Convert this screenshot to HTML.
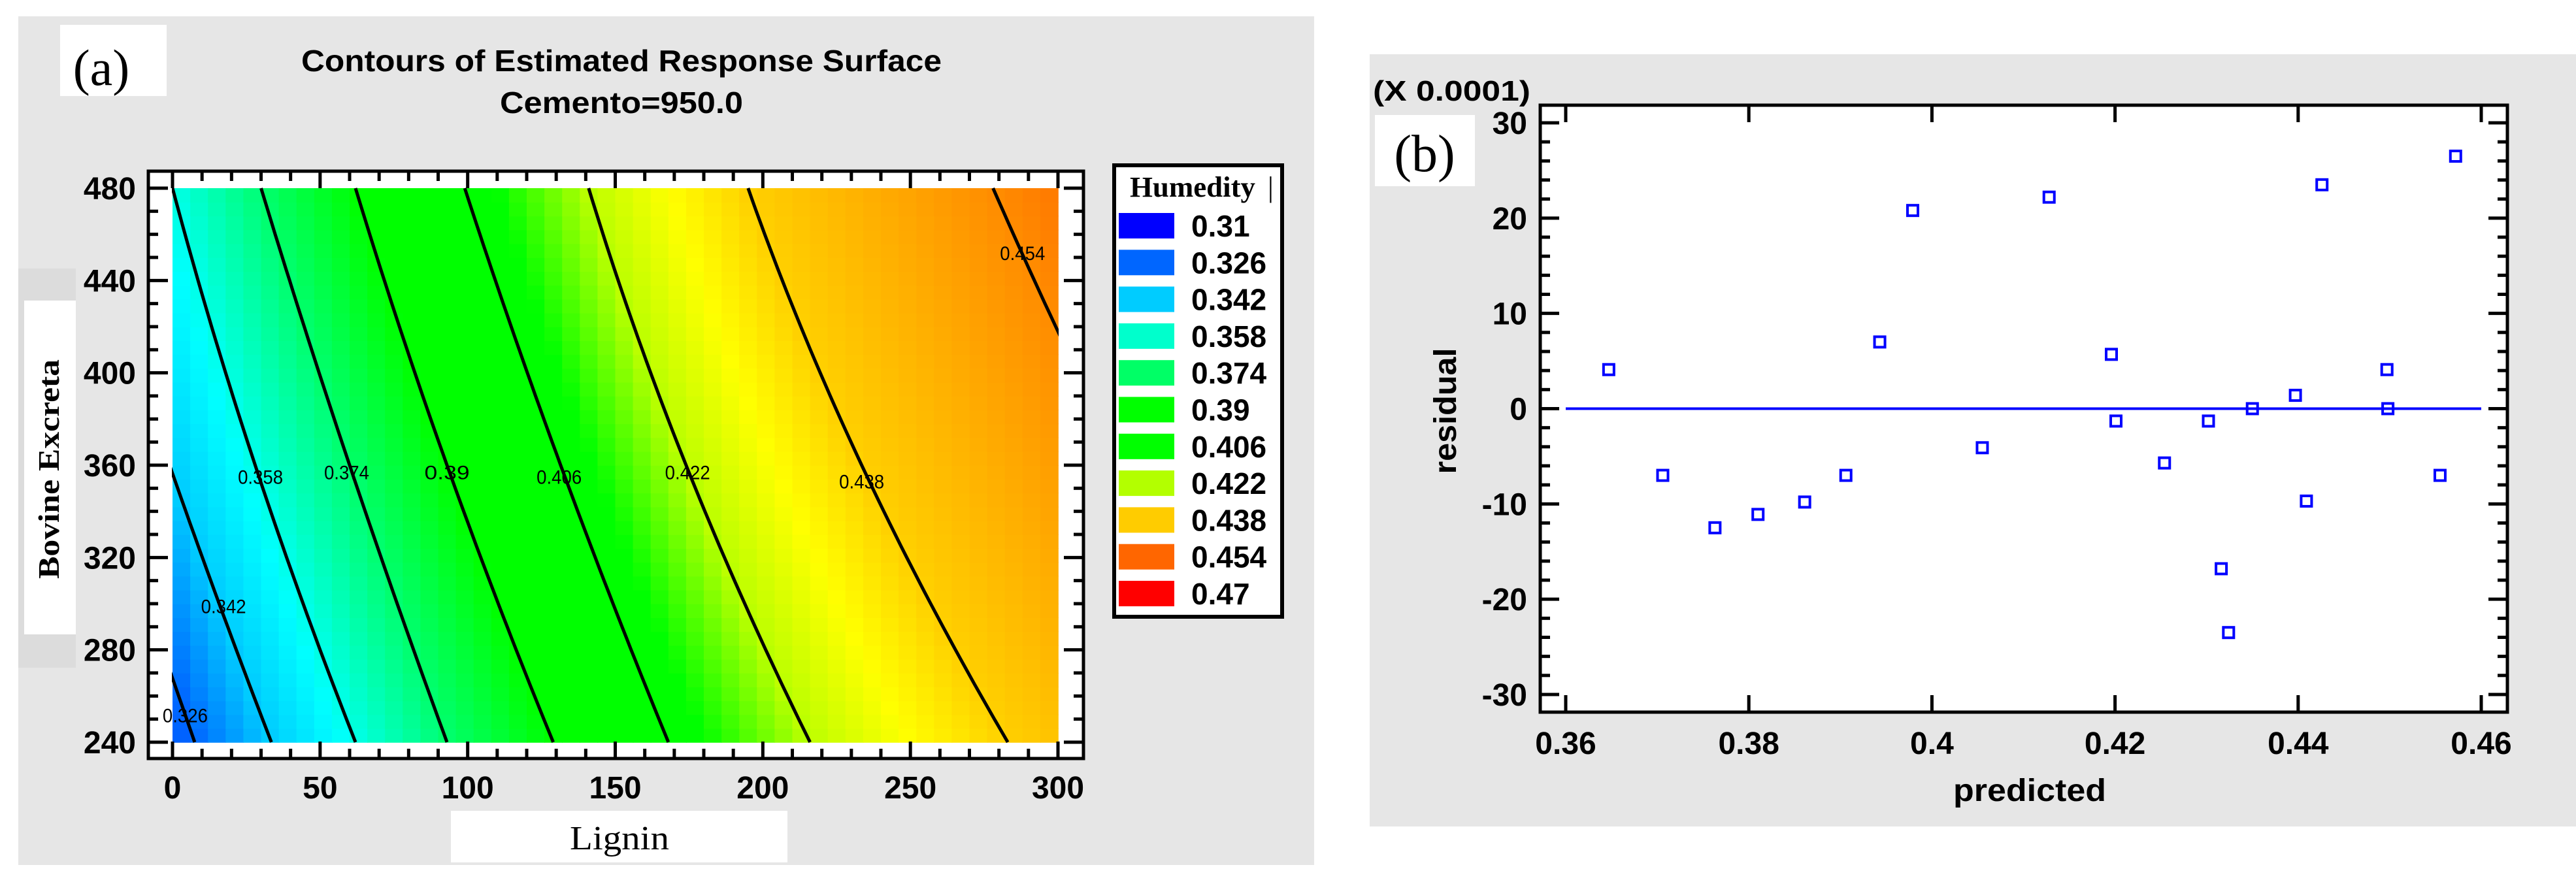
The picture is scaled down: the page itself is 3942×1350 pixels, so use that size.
<!DOCTYPE html>
<html><head><meta charset="utf-8"><style>
html,body{margin:0;padding:0;background:#fff;}
svg{display:block;}
text{font-family:"Liberation Sans",Arial,sans-serif;}
.serif{font-family:"Liberation Serif","Times New Roman",serif;}
</style></head><body>
<svg id="fig" width="3942" height="1350" viewBox="0 0 3942 1350" xmlns="http://www.w3.org/2000/svg">
<defs><clipPath id="dataclip"><rect x="263" y="287" width="1357" height="850"/></clipPath></defs>
<!-- Panel A -->
<g id="panelA">
<rect x="28" y="25" width="1983" height="1299" fill="#e6e6e6"/>
<rect x="92" y="38" width="163" height="109" fill="#fff"/>
<text x="155" y="130" class="serif" font-size="78" text-anchor="middle">(a)</text>
<text x="951" y="109" font-size="46" font-weight="bold" text-anchor="middle" textLength="980" lengthAdjust="spacingAndGlyphs">Contours of Estimated Response Surface</text>
<text x="951" y="173" font-size="46" font-weight="bold" text-anchor="middle" textLength="372" lengthAdjust="spacingAndGlyphs">Cemento=950.0</text>
<rect x="28" y="411" width="88" height="611" fill="#dcdcdc"/>
<rect x="37" y="460" width="79" height="511" fill="#fff"/>
<text transform="translate(90,718) rotate(-90)" class="serif" font-size="46" font-weight="bold" text-anchor="middle" textLength="336" lengthAdjust="spacingAndGlyphs">Bovine Excreta</text>
<rect x="690" y="1241" width="515" height="79" fill="#fff"/>
<text x="948" y="1300" class="serif" font-size="52" text-anchor="middle" textLength="152" lengthAdjust="spacingAndGlyphs">Lignin</text>
<rect x="227" y="262" width="1431" height="899" fill="#fff"/>
<g id="cells"></g>
<g id="contours" clip-path="url(#dataclip)"></g>
<g id="clabels"></g>
<g id="aticks"></g>
<rect x="227" y="262" width="1431" height="899" fill="none" stroke="#000" stroke-width="5"/>
<rect x="1705" y="253" width="257" height="691" fill="#fff" stroke="#000" stroke-width="6"/>
<text x="1729" y="301" class="serif" font-size="44" font-weight="bold" textLength="192" lengthAdjust="spacingAndGlyphs">Humedity</text>
<text x="1940" y="301" class="serif" font-size="44">|</text>
<g id="legend"></g>
</g>
<!-- Panel B -->
<g id="panelB">
<rect x="2096" y="83" width="1846" height="1182" fill="#e6e6e6"/>
<rect x="2357" y="161" width="1480" height="929" fill="#fff"/>
<rect x="2104" y="176" width="153" height="109" fill="#fff"/>
<text x="2180" y="262" class="serif" font-size="80" text-anchor="middle">(b)</text>
<text x="2101" y="154" font-size="44" font-weight="bold" textLength="241" lengthAdjust="spacingAndGlyphs">(X 0.0001)</text>
<text transform="translate(2228,629) rotate(-90)" font-size="48" font-weight="bold" text-anchor="middle" textLength="193" lengthAdjust="spacingAndGlyphs">residual</text>
<text x="3106" y="1226" font-size="48" font-weight="bold" text-anchor="middle" textLength="234" lengthAdjust="spacingAndGlyphs">predicted</text>
<g id="bticks"></g>
<g id="bpoints"></g>
<rect x="2357" y="161" width="1480" height="929" fill="none" stroke="#000" stroke-width="5"/>
</g>
</svg>
<script>
// ---- Panel A data ----
const levels = [0.326, 0.342, 0.358, 0.374, 0.39, 0.406, 0.422, 0.438, 0.454];
// Lignin where each contour crosses Bovine=240, 360, 480
const crossBottom = [7.5, 33.5, 62, 93, 129, 168, 216, 283, 372];
const crossMid = [-26, -1, 28, 60, 93, 131.5, 174, 233.5, 322];
const crossTop = [-62, -32, 0, 30, 62, 99, 141, 195, 278];
const labelLignin = [4.3, 17.3, 29.8, 59, 93, 131, 174.5, 233.5, 288];
const labelBovine = [251.7, 299, 355, 357, 357, 355, 357, 353, 452];
const legendValues = ["0.31","0.326","0.342","0.358","0.374","0.39","0.406","0.422","0.438","0.454","0.47"];
const legendColors = ["#0000ff","#0066ff","#00ccff","#00ffcc","#00ff66","#00ff00","#00ff00","#b3ff00","#ffcc00","#ff6600","#ff0000"];
const xTicksA = [0,50,100,150,200,250,300];
const yTicksA = [240,280,320,360,400,440,480];
// ---- Panel B data ----
const predicted = [0.3647,0.3706,0.3763,0.3810,0.3861,0.3906,0.3943,0.3979,0.4055,0.4128,0.4196,0.4201,0.4254,0.4302,0.4316,0.4324,0.4350,0.4397,0.4409,0.4426,0.4497,0.4498,0.4555,0.4572];
const residual = [4.1,-7.0,-12.5,-11.1,-9.8,-7.0,7.0,20.8,-4.1,22.2,5.7,-1.3,-5.7,-1.3,-16.8,-23.5,0,1.4,-9.7,23.5,4.1,0,-7.0,26.5];
const xTicksB = [0.36,0.38,0.40,0.42,0.44,0.46];
const xTickLabelsB = ["0.36","0.38","0.4","0.42","0.44","0.46"];
const yTicksB = [-30,-20,-10,0,10,20,30];

const NS = "http://www.w3.org/2000/svg";
function mk(tag, attrs, parent){const e=document.createElementNS(NS,tag);for(const k in attrs)e.setAttribute(k,attrs[k]);parent.appendChild(e);return e;}

// axes panel A
const xA = L => 264 + (L/300)*(1619-264);
const yA = B => 1136 - (B-240)/240*(1136-288);
// crossing for level i at bovine B (quadratic through 3 points)
function cross(i,B){
  const t=(B-360)/120; const b=crossBottom[i], m=crossMid[i], tp=crossTop[i];
  return m + t*(tp-b)/2 + t*t*((tp+b)/2-m);
}
function valueAt(L,B){
  const c=levels.map((_,i)=>cross(i,B));
  let i=0; while(i<c.length-2 && L>c[i+1]) i++;
  if(L<c[0]) i=0;
  const f=(L-c[i])/(c[i+1]-c[i]);
  return levels[i]+f*(levels[i+1]-levels[i]);
}
const cmapV=[0.30,0.326,0.342,0.355,0.374,0.39,0.41,0.422,0.43,0.438,0.454,0.47];
const cmapC=[[0,60,255],[0,102,255],[0,204,255],[0,255,255],[0,255,110],[0,255,0],[0,255,0],[187,255,0],[255,255,0],[255,208,0],[255,140,0],[255,64,0]];
function color(v){
  if(v<=cmapV[0]) return cmapC[0];
  for(let i=0;i<cmapV.length-1;i++){ if(v<=cmapV[i+1]){const f=(v-cmapV[i])/(cmapV[i+1]-cmapV[i]);return cmapC[i].map((c,k)=>Math.round(c+f*(cmapC[i+1][k]-c)));}}
  return cmapC[cmapC.length-1];
}
const cells=document.getElementById('cells');
const NX=50, NY=40;
for(let ix=0;ix<NX;ix++){for(let iy=0;iy<NY;iy++){
  const L0=ix*300/NX, L1=(ix+1)*300/NX, B0=240+iy*240/NY, B1=240+(iy+1)*240/NY;
  const c=color(valueAt((L0+L1)/2,(B0+B1)/2));
  const r=mk('rect',{x:xA(L0).toFixed(1),y:yA(B1).toFixed(1),width:(xA(L1)-xA(L0)+0.8).toFixed(1),height:(yA(B0)-yA(B1)+0.8).toFixed(1),fill:`rgb(${c[0]},${c[1]},${c[2]})`},cells);
  
  
}}
const cg=document.getElementById('contours');
levels.forEach((lv,i)=>{
  let d='';
  for(let k=0;k<=48;k++){const B=240+k*5;d+=(k?'L':'M')+xA(cross(i,B)).toFixed(1)+','+yA(B).toFixed(1);}
  const p=mk('path',{d:d,fill:'none',stroke:'#000','stroke-width':5},cg);
  
  
});
const clg=document.getElementById('clabels');
levels.forEach((lv,i)=>{
  const t=mk('text',{x:xA(labelLignin[i]),y:yA(labelBovine[i])+11,'font-size':30,'text-anchor':'middle',textLength:69,lengthAdjust:'spacingAndGlyphs'},clg);
  t.textContent=String(lv);
  
  
});
const at=document.getElementById('aticks');
for(let L=0;L<=300;L+=10){const maj=L%50===0;const len=maj?26:15;
  mk('line',{x1:xA(L),x2:xA(L),y1:262,y2:262+len,stroke:'#000','stroke-width':5},at);
  mk('line',{x1:xA(L),x2:xA(L),y1:1161,y2:1161-len,stroke:'#000','stroke-width':5},at);}
for(let B=240;B<=480;B+=10){const maj=B%40===0;const len=maj?30:15;
  mk('line',{x1:227,x2:227+len,y1:yA(B),y2:yA(B),stroke:'#000','stroke-width':5},at);
  mk('line',{x1:1658,x2:1658-len,y1:yA(B),y2:yA(B),stroke:'#000','stroke-width':5},at);}
xTicksA.forEach(v=>{const t=mk('text',{x:xA(v),y:1222,'font-size':48,'font-weight':'bold','text-anchor':'middle'},at);t.textContent=v;
  
  });
yTicksA.forEach(v=>{const t=mk('text',{x:208,y:yA(v)+17,'font-size':48,'font-weight':'bold','text-anchor':'end'},at);t.textContent=v;
  
  });
const lg=document.getElementById('legend');
legendValues.forEach((v,i)=>{
  const y=326+i*56.3;
  const r=mk('rect',{x:1712,y:y,width:85,height:39,fill:legendColors[i]},lg);
  
  
  const t=mk('text',{x:1823,y:y+36,'font-size':46,'font-weight':'bold'},lg);t.textContent=v;
  
  
});

// ---- Panel B ----
const xB = p => 2396 + (p-0.36)/0.1*(3797-2396);
const yB = r => 188 + (30-r)/60*(1063-188);
const bt=document.getElementById('bticks');
xTicksB.forEach((v,i)=>{
  mk('line',{x1:xB(v),x2:xB(v),y1:161,y2:187,stroke:'#000','stroke-width':5},bt);
  mk('line',{x1:xB(v),x2:xB(v),y1:1090,y2:1064,stroke:'#000','stroke-width':5},bt);
  const t=mk('text',{x:xB(v),y:1154,'font-size':48,'font-weight':'bold','text-anchor':'middle'},bt);t.textContent=xTickLabelsB[i];
  
  
});
for(let r=-30;r<=30;r+=2){const maj=r%10===0;const len=maj?29:15;
  mk('line',{x1:2357,x2:2357+len,y1:yB(r),y2:yB(r),stroke:'#000','stroke-width':5},bt);
  mk('line',{x1:3837,x2:3837-len,y1:yB(r),y2:yB(r),stroke:'#000','stroke-width':5},bt);}
yTicksB.forEach(v=>{const t=mk('text',{x:2337,y:yB(v)+17,'font-size':48,'font-weight':'bold','text-anchor':'end'},bt);t.textContent=v;
  
  });
const zl=mk('line',{x1:xB(0.36),x2:xB(0.46),y1:yB(0),y2:yB(0),stroke:'#0000ff','stroke-width':4},bt);


const bp=document.getElementById('bpoints');
predicted.forEach((p,i)=>{
  const r=mk('rect',{x:xB(p)-8,y:yB(residual[i])-8,width:16,height:16,fill:'none',stroke:'#0000ff','stroke-width':4},bp);
  
  
});
</script>
</body></html>
